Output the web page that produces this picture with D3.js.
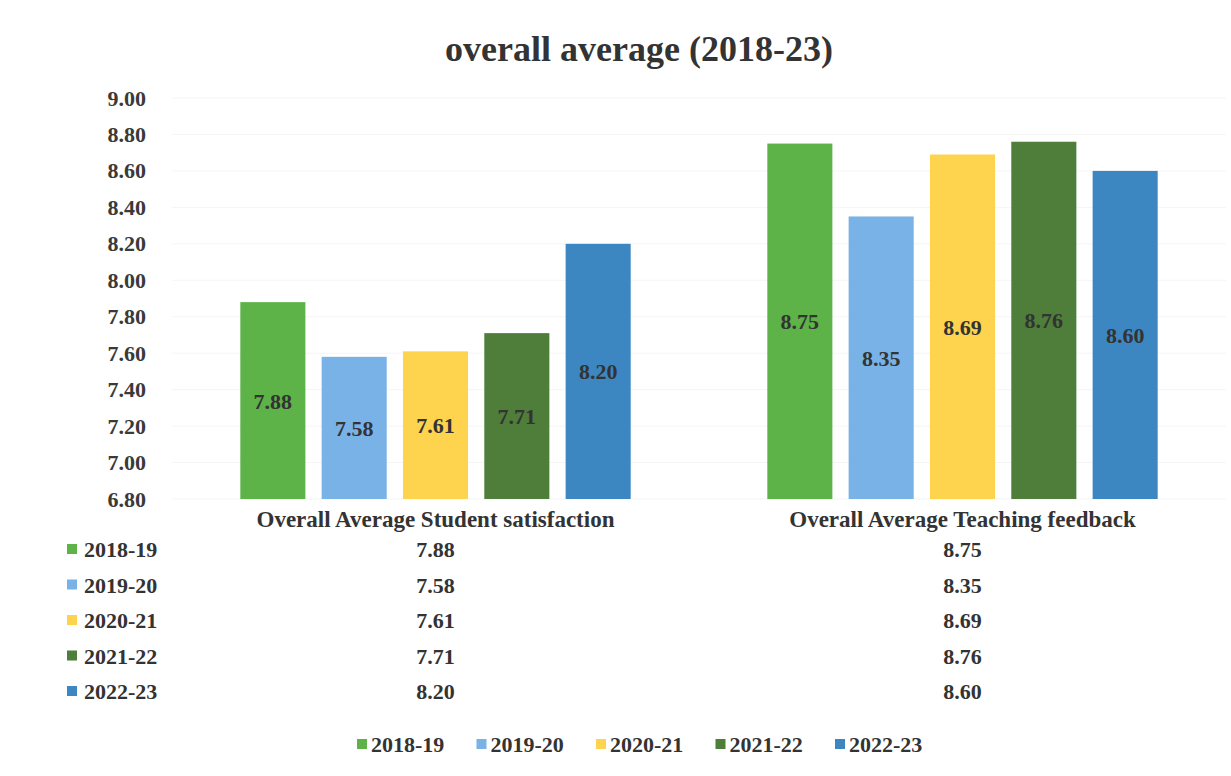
<!DOCTYPE html>
<html>
<head>
<meta charset="utf-8">
<script src="https://cdn.jsdelivr.net/npm/d3@7"></script>
<style>
  body { margin: 0; background: #fff; }
  svg text { font-family: "Liberation Serif", "Times New Roman", serif; font-weight: bold; }
</style>
</head>
<body>
<div id="chart"></div>
<script>
const categories = ["Overall Average Student satisfaction", "Overall Average Teaching feedback"];
const seriesNames = ["2018-19", "2019-20", "2020-21", "2021-22", "2022-23"];
const satisfaction = [7.88, 7.58, 7.61, 7.71, 8.20];
const teaching = [8.75, 8.35, 8.69, 8.76, 8.60];
const yTicks = [6.8, 7.0, 7.2, 7.4, 7.6, 7.8, 8.0, 8.2, 8.4, 8.6, 8.8, 9.0];
const colors = ["#5db348", "#79b2e6", "#fed34e", "#4f7d3a", "#3c87c1"];

const values = [satisfaction, teaching];
const width = 1231, height = 776;

const svg = d3.select("#chart").append("svg")
  .attr("width", width).attr("height", height);

const x0 = d3.scaleBand().domain(categories).range([172, 1226]);
const x1 = d3.scaleBand().domain(seriesNames)
  .range([0, x0.bandwidth()]).paddingInner(0.2).paddingOuter(0.84);
const y = d3.scaleLinear().domain([6.8, 9.0]).range([499, 98]);
const color = d3.scaleOrdinal().domain(seriesNames).range(colors);

// title
svg.append("text")
  .attr("x", 639).attr("y", 61)
  .attr("text-anchor", "middle")
  .attr("font-size", 36)
  .attr("fill", "#333")
  .text("overall average (2018-23)");

// faint gridlines
svg.append("g")
  .selectAll("line")
  .data(yTicks)
  .join("line")
  .attr("x1", 172).attr("x2", 1226)
  .attr("y1", d => y(d)).attr("y2", d => y(d))
  .attr("stroke", "#f5f5f5");

// y axis
const yAxis = svg.append("g")
  .attr("transform", "translate(146,0)")
  .call(d3.axisLeft(y).tickValues(yTicks).tickFormat(d3.format(".2f")).tickSize(0).tickPadding(0));
yAxis.select(".domain").remove();
yAxis.selectAll("text")
  .attr("font-size", 22)
  .attr("fill", "#3a3a3a")
  .style("font-family", "'Liberation Serif', serif")
  .style("font-weight", "bold");

// bars
const groups = svg.append("g")
  .selectAll("g")
  .data(categories)
  .join("g")
  .attr("transform", d => `translate(${x0(d)},0)`);

const cells = groups.selectAll("g")
  .data((c, i) => seriesNames.map((s, j) => ({ series: s, value: values[i][j] })))
  .join("g");

cells.append("rect")
  .attr("x", d => x1(d.series))
  .attr("width", x1.bandwidth())
  .attr("y", d => y(d.value))
  .attr("height", d => y(6.8) - y(d.value))
  .attr("fill", d => color(d.series));

cells.append("text")
  .attr("x", d => x1(d.series) + x1.bandwidth() / 2)
  .attr("y", d => (y(d.value) + y(6.8)) / 2 + 8)
  .attr("text-anchor", "middle")
  .attr("font-size", 22)
  .attr("fill", "#333")
  .text(d => d.value.toFixed(2));

// category labels
svg.append("g")
  .selectAll("text")
  .data(categories)
  .join("text")
  .attr("x", d => x0(d) + x0.bandwidth() / 2)
  .attr("y", 527)
  .attr("text-anchor", "middle")
  .attr("font-size", 23)
  .attr("fill", "#333")
  .text(d => d);

// data table
const rowY = d3.scalePoint().domain(seriesNames).range([557, 699]);

const keys = svg.append("g")
  .selectAll("g")
  .data(seriesNames)
  .join("g")
  .attr("transform", d => `translate(0,${rowY(d)})`);
keys.append("rect")
  .attr("x", 67).attr("y", -13).attr("width", 10).attr("height", 10)
  .attr("fill", d => color(d));
keys.append("text")
  .attr("x", 84).attr("y", 0)
  .attr("font-size", 22)
  .attr("fill", "#333")
  .text(d => d);

categories.forEach((c, i) => {
  svg.append("g")
    .selectAll("text")
    .data(seriesNames)
    .join("text")
    .attr("x", x0(c) + x0.bandwidth() / 2)
    .attr("y", d => rowY(d))
    .attr("text-anchor", "middle")
    .attr("font-size", 22)
    .attr("fill", "#333")
    .text((d, j) => values[i][j].toFixed(2));
});

// bottom legend
const legX = d3.scalePoint().domain(seriesNames).range([357, 835]);
const leg = svg.append("g")
  .selectAll("g")
  .data(seriesNames)
  .join("g")
  .attr("transform", d => `translate(${legX(d)},752)`);
leg.append("rect")
  .attr("x", 0).attr("y", -13).attr("width", 10).attr("height", 10)
  .attr("fill", d => color(d));
leg.append("text")
  .attr("x", 14).attr("y", 0)
  .attr("font-size", 22)
  .attr("fill", "#333")
  .text(d => d);
</script>
</body>
</html>
